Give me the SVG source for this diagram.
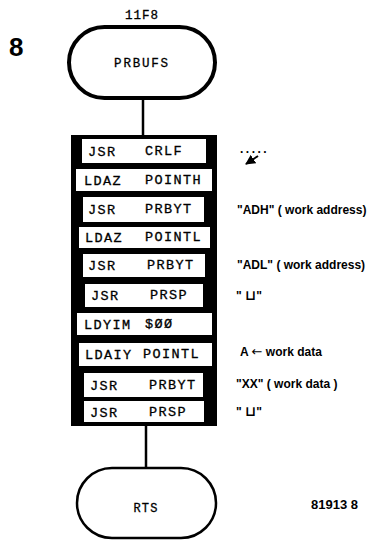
<svg xmlns="http://www.w3.org/2000/svg" width="372" height="542" viewBox="0 0 372 542">
<style>
.term{fill:#fff;stroke:#000}
.box{fill:#fff;stroke:none}
.mono{font-family:"Liberation Mono","DejaVu Sans Mono",monospace;font-size:13.5px;fill:#000;stroke:#000;stroke-width:0.3;letter-spacing:1.4px}
.ann{font-family:"Liberation Sans","DejaVu Sans",sans-serif;font-size:12px;font-weight:bold;fill:#000}
.sym{font-family:"DejaVu Sans",sans-serif;font-weight:bold;font-size:14px}
.con{stroke:#000;stroke-width:2.5;fill:none}
</style>
<defs>
<marker id="ah" viewBox="0 0 10 10" refX="9" refY="5" markerWidth="5" markerHeight="5" orient="auto">
<path d="M0,0 L10,5 L0,10 z" fill="#000"/>
</marker>
</defs>
<rect width="372" height="542" fill="#fff"/>
<text x="9" y="56" font-family="Liberation Sans,sans-serif" font-size="26" font-weight="bold">8</text>
<g id="connectors">
<line class="con" x1="143" y1="98" x2="143" y2="136"/>
<line class="con" x1="146" y1="425" x2="146" y2="468"/>
</g>
<g id="start">
<text class="mono" x="142" y="19" text-anchor="middle" style="font-size:12.5px;letter-spacing:1px">11F8</text>
<rect class="term" x="69" y="27" width="146" height="71" rx="35.5" stroke-width="4"/>
<text class="mono" x="142" y="67" text-anchor="middle" style="font-size:12.5px;letter-spacing:1.8px">PRBUFS</text>
</g>
<g id="block">
<rect x="71" y="135" width="146" height="291" fill="#000"/>
<rect class="box" x="82" y="139" width="124" height="24"/>
<rect class="box" x="76" y="169" width="136" height="22"/>
<rect class="box" x="83" y="197" width="121" height="25"/>
<rect class="box" x="79" y="227" width="131" height="21"/>
<rect class="box" x="83" y="254" width="122" height="23"/>
<rect class="box" x="85" y="284" width="118" height="23"/>
<rect class="box" x="77" y="313" width="135" height="22"/>
<rect class="box" x="79" y="343" width="133" height="23"/>
<rect class="box" x="84" y="373" width="119" height="24"/>
<rect class="box" x="84" y="401" width="120" height="21"/>
<text class="mono" x="88" y="156">JSR</text><text class="mono" x="145" y="155">CRLF</text>
<text class="mono" x="84" y="185">LDAZ</text><text class="mono" x="145" y="184">POINTH</text>
<text class="mono" x="88" y="214">JSR</text><text class="mono" x="145" y="213">PRBYT</text>
<text class="mono" x="85" y="242">LDAZ</text><text class="mono" x="145" y="241">POINTL</text>
<text class="mono" x="88" y="270">JSR</text><text class="mono" x="147" y="269">PRBYT</text>
<text class="mono" x="91" y="300">JSR</text><text class="mono" x="150" y="299">PRSP</text>
<text class="mono" x="84" y="329">LDYIM</text><text class="mono" x="145" y="328">$ØØ</text>
<text class="mono" x="85" y="359">LDAIY</text><text class="mono" x="143" y="358">POINTL</text>
<text class="mono" x="90" y="390">JSR</text><text class="mono" x="149" y="389">PRBYT</text>
<text class="mono" x="90" y="417">JSR</text><text class="mono" x="149" y="416">PRSP</text>
</g>
<g id="notes">
<text class="ann" x="240" y="153" letter-spacing="2.5">.....</text>
<line x1="258" y1="156" x2="246" y2="164" stroke="#000" stroke-width="2" marker-end="url(#ah)"/>
<text class="ann" x="237" y="214">"ADH" ( work address)</text>
<text class="ann" x="237" y="269">"ADL" ( work address)</text>
<text class="ann" x="236" y="300">" <tspan class="sym">⊔</tspan>"</text>
<text class="ann" x="240" y="356">A <tspan font-weight="normal" font-family="DejaVu Sans,sans-serif" font-size="13">←</tspan> work data</text>
<text class="ann" x="236" y="388">"XX" ( work data )</text>
<text class="ann" x="236" y="416">" <tspan class="sym">⊔</tspan>"</text>
</g>
<g id="end">
<rect class="term" x="77" y="468" width="139" height="70" rx="35" stroke-width="2.5"/>
<text class="mono" x="146" y="512" text-anchor="middle" style="font-size:12px;letter-spacing:1.2px">RTS</text>
</g>
<text class="ann" x="311" y="509" style="font-size:13px">81913 8</text>
</svg>
